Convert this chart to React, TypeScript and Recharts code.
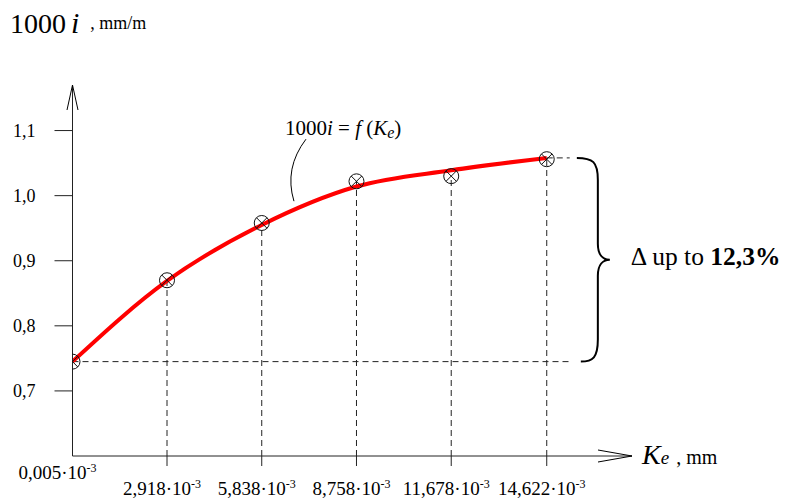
import React from 'react';
import {
  ComposedChart,
  Line,
  Scatter,
  XAxis,
  YAxis,
  ReferenceLine,
  ReferenceDot,
  ReferenceArea,
} from 'recharts';

// roughness Ke (x 10^-3 mm) and hydraulic gradient 1000i
const keValues = [0.005, 2.918, 5.838, 8.758, 11.678, 14.622];
const keLabels = ['0,005', '2,918', '5,838', '8,758', '11,678', '14,622'];
const measured = [0.745, 0.87, 0.958, 1.022, 1.03, 1.056];
const fitted = [0.745, 0.869, 0.955, 1.014, 1.039, 1.058];
const yTicks = [0.7, 0.8, 0.9, 1.0, 1.1];
const yTickLabels = ['0,7', '0,8', '0,9', '1,0', '1,1'];

const xDomain: [number, number] = [0.005, 17.25];
const yDomain: [number, number] = [0.6, 1.17];
const guideEnd = 15.33;
const braceFrom = 15.55;
const braceTo = 16.5;
const noteAt = { x: 6.8, y: 0.97 };

const SERIF = "'Liberation Serif', 'Times New Roman', 'DejaVu Serif', serif";
const INK = '#222';
const txt = { fontFamily: SERIF };

const fitData = keValues.map((x, i) => ({ x, y: fitted[i] }));
const pointData = keValues.map((x, i) => ({ x, y: measured[i] }));

const XTick = ({ x, y, payload }: any) => {
  const i = keValues.indexOf(payload.value);
  const first = i === 0;
  return (
    <g>
      {!first && <line x1={x} x2={x} y1={y - 10} y2={y} stroke={INK} />}
      <text
        x={first ? x - 15 : x - 5}
        y={first ? y + 12.5 : y + 28.5}
        textAnchor="middle"
        style={txt}
        fontSize={19}
        fill="#000"
      >
        {keLabels[i]}·10
        <tspan fontSize={12} dy={-7}>-3</tspan>
      </text>
    </g>
  );
};

const YTick = ({ x, y, payload }: any) => (
  <text x={x} y={y + 6} textAnchor="end" style={txt} fontSize={18} fill="#000">
    {yTickLabels[yTicks.indexOf(payload.value)]}
  </text>
);

const Marker = ({ cx, cy }: any) => {
  const r = 7.5;
  const d = r * 0.707;
  return (
    <g stroke="#111" strokeWidth={1} fill="none">
      <circle cx={cx} cy={cy} r={r} />
      <line x1={cx - d} y1={cy - d} x2={cx + d} y2={cy + d} />
      <line x1={cx - d} y1={cy + d} x2={cx + d} y2={cy - d} />
    </g>
  );
};

const Brace = ({ x, y, height }: any) => {
  const top = y;
  const bot = y + height;
  const mid = y + height / 2;
  const x0 = x;
  const d = `M${x0},${top} C${x0 + 16},${top} ${x0 + 21},${top + 4} ${x0 + 21},${top + 22} L${x0 + 21},${mid - 16} C${x0 + 21},${mid - 5} ${x0 + 26},${mid} ${x0 + 33},${mid} C${x0 + 26},${mid} ${x0 + 21},${mid + 5} ${x0 + 21},${mid + 16} L${x0 + 21},${bot - 22} C${x0 + 21},${bot - 4} ${x0 + 16},${bot} ${x0 + 4},${bot}`;
  return (
    <g>
      <path d={d} fill="none" stroke="#000" strokeWidth={2} />
      <text x={x0 + 54} y={mid + 5} style={txt} fontSize={25.5} fill="#000">
        Δ up to <tspan fontWeight="bold">12,3%</tspan>
      </text>
    </g>
  );
};

const Note = ({ cx, cy }: any) => (
  <g>
    <path
      d={`M${cx + 13},${cy - 76} Q${cx - 9},${cy - 47} ${cx + 1},${cy - 14}`}
      fill="none"
      stroke="#000"
      strokeWidth={1}
    />
    <text x={cx - 8} y={cy - 80} style={txt} fontSize={21} fill="#000">
      1000<tspan fontStyle="italic">i</tspan> = <tspan fontStyle="italic">f</tspan> (
      <tspan fontStyle="italic">K</tspan>
      <tspan fontStyle="italic" fontSize={16} dy={3}>e</tspan>
      <tspan dy={-3}>)</tspan>
    </text>
  </g>
);

const YArrow = ({ cx, cy }: any) => (
  <g>
    <path
      d={`M${cx - 5.5},${cy + 25} L${cx},${cy} L${cx + 5.5},${cy + 25}`}
      fill="none"
      stroke="#000"
      strokeWidth={1}
    />
    <text x={cx - 62.5} y={cy - 52} style={txt} fontSize={28} fill="#000">
      1000
      <tspan fontStyle="italic" fontSize={30} dx={5}>i</tspan>
      <tspan fontSize={18} dx={11} dy={-4}>, mm/m</tspan>
    </text>
  </g>
);

const XArrow = ({ cx, cy }: any) => (
  <g>
    <path
      d={`M${cx - 34},${cy - 6} L${cx},${cy} L${cx - 34},${cy + 6}`}
      fill="none"
      stroke="#000"
      strokeWidth={1}
    />
    <text x={cx + 10} y={cy + 7.5} style={txt} fill="#000">
      <tspan fontStyle="italic" fontSize={28}>K</tspan>
      <tspan fontStyle="italic" fontSize={19}>e</tspan>
      <tspan fontSize={20} dx={7}>, mm</tspan>
    </text>
  </g>
);

export default function App() {
  return (
    <div style={{ position: 'absolute', left: 0, top: 0, width: 786, height: 498, background: '#fff' }}>
      <ComposedChart width={786} height={498} margin={{ top: 85, right: 154, bottom: 0, left: 0 }}>
        <XAxis
          type="number"
          dataKey="x"
          domain={xDomain}
          ticks={keValues}
          interval={0}
          allowDataOverflow
          height={42}
          tickSize={10}
          tickMargin={0}
          tickLine={false}
          axisLine={{ stroke: INK }}
          tick={<XTick />}
        />
        <YAxis
          type="number"
          domain={yDomain}
          ticks={yTicks}
          interval={0}
          allowDataOverflow
          width={72.5}
          tickSize={18}
          tickMargin={19}
          tickLine={{ stroke: INK }}
          axisLine={{ stroke: INK }}
          tick={<YTick />}
        />
        {keValues.slice(1).map((k, i) => (
          <ReferenceLine
            key={k}
            segment={[
              { x: k, y: yDomain[0] },
              { x: k, y: measured[i + 1] },
            ]}
            stroke={INK}
            strokeDasharray="6 4"
          />
        ))}
        <ReferenceLine
          segment={[
            { x: keValues[0], y: measured[0] },
            { x: guideEnd, y: measured[0] },
          ]}
          stroke={INK}
          strokeDasharray="6 4"
        />
        <ReferenceLine
          segment={[
            { x: keValues[keValues.length - 1], y: fitted[fitted.length - 1] },
            { x: guideEnd, y: fitted[fitted.length - 1] },
          ]}
          stroke={INK}
          strokeDasharray="6 4"
        />
        <ReferenceArea
          x1={braceFrom}
          x2={braceTo}
          y1={measured[0]}
          y2={fitted[fitted.length - 1]}
          ifOverflow="visible"
          shape={<Brace />}
        />
        <ReferenceDot x={noteAt.x} y={noteAt.y} r={0} ifOverflow="visible" shape={<Note />} />
        <ReferenceDot x={xDomain[0]} y={yDomain[1]} r={0} ifOverflow="visible" shape={<YArrow />} />
        <ReferenceDot x={xDomain[1]} y={yDomain[0]} r={0} ifOverflow="visible" shape={<XArrow />} />
        <Line
          data={fitData}
          dataKey="y"
          type="monotone"
          stroke="#ff0000"
          strokeWidth={4}
          dot={false}
          activeDot={false}
          isAnimationActive={false}
        />
        <Scatter data={pointData} dataKey="y" shape={<Marker />} isAnimationActive={false} />
      </ComposedChart>
    </div>
  );
}
